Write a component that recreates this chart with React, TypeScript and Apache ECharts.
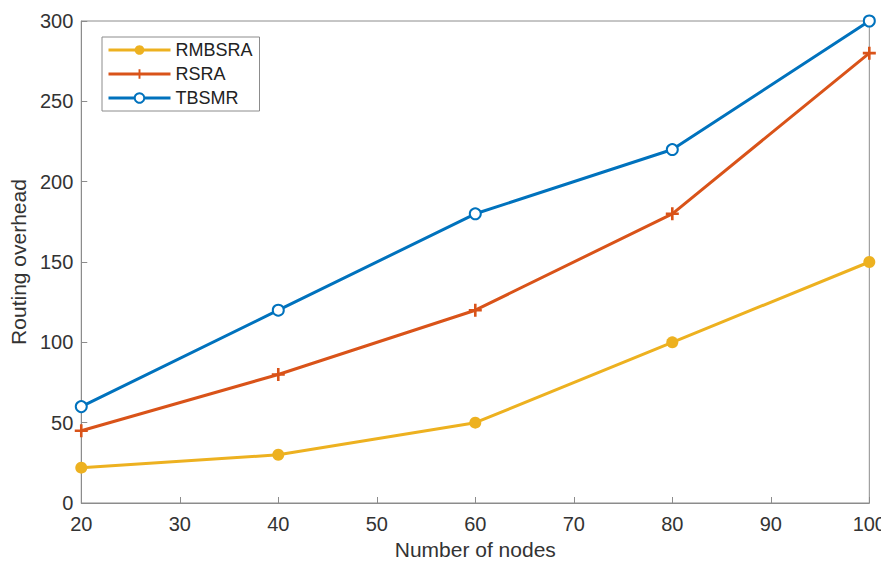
import React, { useEffect, useRef } from "react";
import * as echarts from "echarts";

const nodes = [20, 40, 60, 80, 100];
const rmbsra = [22, 30, 50, 100, 150];
const rsra = [45, 80, 120, 180, 280];
const tbsmr = [60, 120, 180, 220, 300];

const PLUS = "path://M4,0 L6,0 L6,4 L10,4 L10,6 L6,6 L6,10 L4,10 L4,6 L0,6 L0,4 L4,4 Z";

export default function App() {
  const ref = useRef<HTMLDivElement>(null);
  useEffect(() => {
    const chart = echarts.init(ref.current!, null, { renderer: "svg" });
    const font = "Liberation Sans, Arial, sans-serif";
    const mk = (vals: number[]) => nodes.map((n, i) => [n, vals[i]]);
    chart.setOption({
      animation: false,
      backgroundColor: "#ffffff",
      grid: {
        left: 80,
        right: 17,
        top: 21,
        bottom: 61,
        show: true,
        borderColor: "#8c8c8c",
        borderWidth: 1,
      },
      legend: {
        left: 102,
        top: 37,
        orient: "vertical",
        itemWidth: 62,
        itemHeight: 12,
        itemGap: 6,
        padding: [4, 7, 4, 5],
        borderColor: "#8c8c8c",
        borderWidth: 1,
        backgroundColor: "#fff",
        lineStyle: { width: 3 },
        textStyle: { fontFamily: font, fontSize: 18, color: "#222" },
        data: ["RMBSRA", "RSRA", "TBSMR"],
      },
      xAxis: {
        type: "value",
        min: 20,
        max: 100,
        interval: 10,
        name: "Number of nodes",
        nameLocation: "middle",
        nameGap: 36,
        nameTextStyle: { fontFamily: font, fontSize: 21, color: "#333" },
        axisLine: { show: true, lineStyle: { color: "#8c8c8c" } },
        axisTick: { show: true, inside: true, length: 6, lineStyle: { color: "#8c8c8c" } },
        axisLabel: { fontFamily: font, fontSize: 20, color: "#333", margin: 11 },
        splitLine: { show: false },
      },
      yAxis: {
        type: "value",
        min: 0,
        max: 300,
        interval: 50,
        name: "Routing overhead",
        nameLocation: "middle",
        nameGap: 52,
        nameTextStyle: { fontFamily: font, fontSize: 21, color: "#333" },
        axisLine: { show: true, lineStyle: { color: "#8c8c8c" } },
        axisTick: { show: true, inside: true, length: 6, lineStyle: { color: "#8c8c8c" } },
        axisLabel: { fontFamily: font, fontSize: 20, color: "#333", margin: 8 },
        splitLine: { show: false },
      },
      series: [
        {
          name: "RMBSRA",
          type: "line",
          data: mk(rmbsra),
          color: "#EDB120",
          lineStyle: { width: 3, color: "#EDB120" },
          symbol: "circle",
          symbolSize: 12,
          itemStyle: { color: "#EDB120" },
        },
        {
          name: "RSRA",
          type: "line",
          data: mk(rsra),
          color: "#D95319",
          lineStyle: { width: 3, color: "#D95319" },
          symbol: PLUS,
          symbolSize: 13,
          itemStyle: { color: "#D95319" },
        },
        {
          name: "TBSMR",
          type: "line",
          data: mk(tbsmr),
          color: "#0072BD",
          lineStyle: { width: 3, color: "#0072BD" },
          symbol: "emptyCircle",
          symbolSize: 11,
          itemStyle: { color: "#0072BD", borderColor: "#0072BD", borderWidth: 2.5 },
        },
      ],
    });
    return () => chart.dispose();
  }, []);
  return <div ref={ref} style={{ width: 889, height: 565, margin: -8 }} />;
}
